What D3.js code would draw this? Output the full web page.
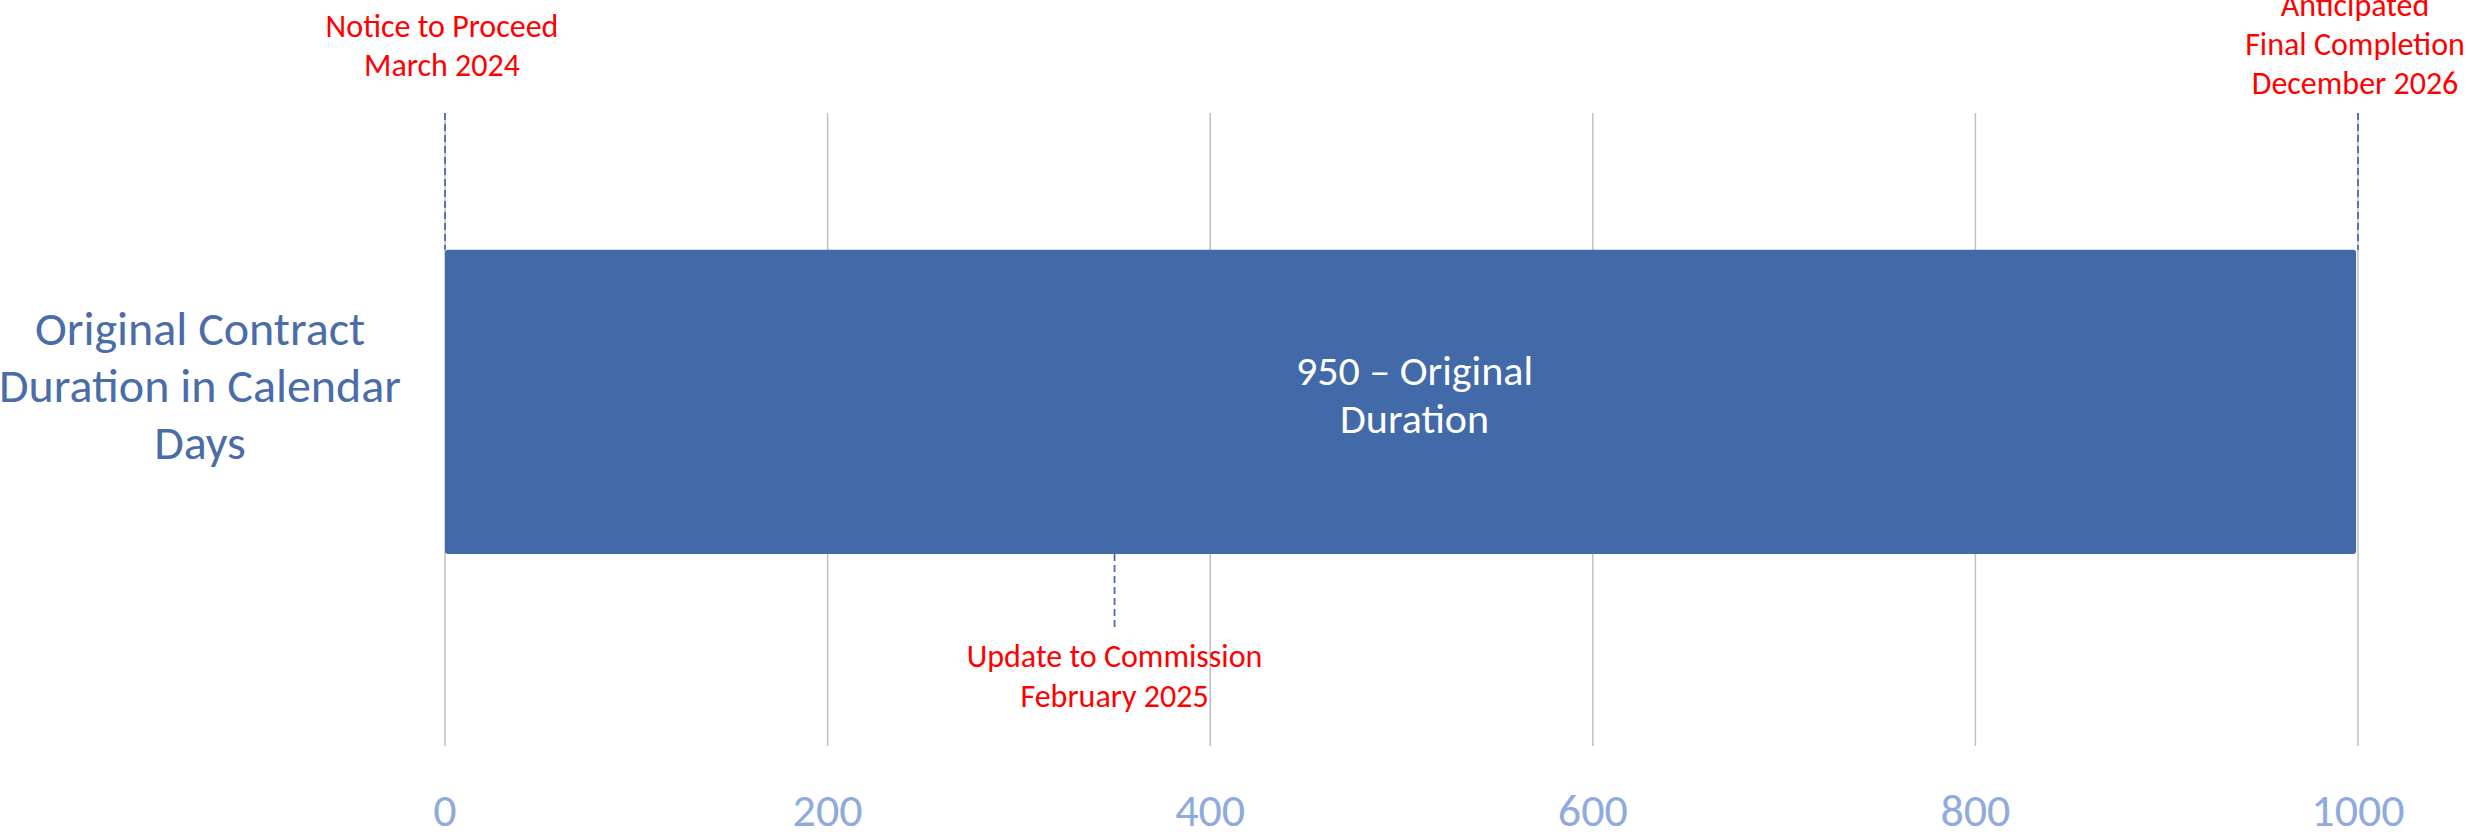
<!DOCTYPE html>
<html>
<head>
<meta charset="utf-8">
<script src="https://cdn.jsdelivr.net/npm/d3@7"></script>
<style>
  html, body { margin: 0; padding: 0; background: #fff; }
  svg { display: block; font-family: Carlito, Calibri, Lato, sans-serif; }
  .grid-line { stroke: #c0c0c0; stroke-width: 1.5; }
  .tick-label { fill: #8faadc; font-size: 46px; }
  .cat-label { fill: #4a6ca9; font-size: 48px; }
  .bar-label { fill: #fff; font-size: 42px; }
  .note { fill: #ff0000; font-size: 32px; }
  .marker { stroke: #4a6ca9; stroke-width: 1.8; stroke-dasharray: 7,4; fill: none; }
</style>
</head>
<body>
<svg id="chart"></svg>
<script>
const categories = ["Original Contract Duration in Calendar Days"];
const categoryLines = [["Original Contract", "Duration in Calendar", "Days"]];
const durations = [999];
const barLabels = [["950 \u2013 Original", "Duration"]];
const xTicks = [0, 200, 400, 600, 800, 1000];

const milestoneDays = [0, 350, 1000];
const milestoneSides = ["above", "below", "above"];
const milestoneLabels = [
  ["Notice to Proceed", "March 2024"],
  ["Update to Commission", "February 2025"],
  ["Anticipated", "Final Completion", "December 2026"]
];

const W = 2468, H = 838;
const m = { top: 113, right: 110, bottom: 92, left: 445 };
const svg = d3.select("#chart").attr("width", W).attr("height", H).attr("viewBox", `0 0 ${W} ${H}`);

const x = d3.scaleLinear().domain([0, 1000]).range([m.left, W - m.right]);
const y = d3.scaleBand().domain(categories).range([m.top, H - m.bottom]).padding(0.351).align(0.416);

// vertical gridlines
svg.append("g").selectAll("line").data(xTicks).join("line")
  .attr("class", "grid-line")
  .attr("x1", (d) => x(d)).attr("x2", (d) => x(d))
  .attr("y1", m.top).attr("y2", H - m.bottom);

// tick labels
svg.append("g").selectAll("text").data(xTicks).join("text")
  .attr("class", "tick-label")
  .attr("x", (d) => x(d)).attr("y", H - m.bottom + 80)
  .attr("text-anchor", "middle")
  .text((d) => d);

// bar
svg.append("g").selectAll("rect").data(categories).join("rect")
  .attr("x", x(0)).attr("y", (d) => y(d))
  .attr("width", (d, i) => x(durations[i]) - x(0))
  .attr("height", y.bandwidth())
  .attr("rx", 3)
  .attr("fill", "#436aa8");

// bar labels
categories.forEach((c, i) => {
  const cy = y(c) + y.bandwidth() / 2;
  const t = svg.append("text").attr("class", "bar-label").attr("text-anchor", "middle");
  barLabels[i].forEach((line, j) => {
    t.append("tspan").attr("x", x(durations[i] / 2) + 14).attr("y", cy - 17 + j * 48).text(line);
  });
  // category label
  const ct = svg.append("text").attr("class", "cat-label").attr("text-anchor", "middle");
  categoryLines[i].forEach((line, j) => {
    ct.append("tspan").attr("x", 200).attr("y", cy + (j - 1) * 57).text(line);
  });
});

// milestone markers
const barTop = y(categories[0]);
const barBottom = barTop + y.bandwidth();
milestoneDays.forEach((d, i) => {
  const above = milestoneSides[i] === "above";
  svg.append("line").attr("class", "marker")
    .attr("x1", x(d)).attr("x2", x(d))
    .attr("y1", above ? m.top : barBottom)
    .attr("y2", above ? barTop : barBottom + 74);
  const lines = milestoneLabels[i];
  const t = svg.append("text").attr("class", "note").attr("text-anchor", "middle");
  lines.forEach((line, j) => {
    const base = above ? 76 - (lines.length - 1 - j) * 39 : barBottom + 113 + j * 40;
    t.append("tspan").attr("x", x(d) + (above ? -3 : 0)).attr("y", above && lines.length === 3 ? base + 18 : base).text(line);
  });
});
</script>
</body>
</html>
